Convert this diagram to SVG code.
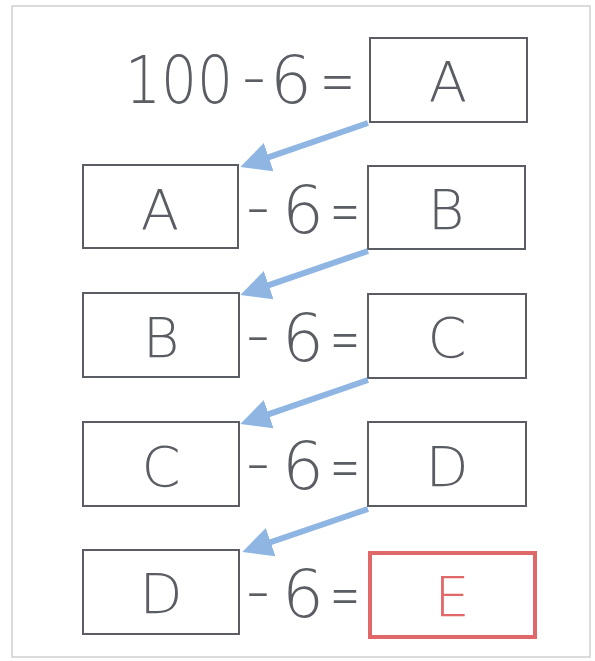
<svg xmlns="http://www.w3.org/2000/svg" width="595" height="661" viewBox="0 0 595 661">
<style>
.box{fill:none;stroke:#5a5d63;stroke-width:2}
.ans{fill:none;stroke:#e06868;stroke-width:4}
.lt{font-family:"DejaVu Sans","Liberation Sans",sans-serif;font-size:56px;fill:#5a5d63;text-anchor:middle;font-weight:200}
.eq{font-family:"DejaVu Sans","Liberation Sans",sans-serif;font-size:66px;fill:#5a5d63;font-weight:200}
.arr{stroke:#8fb6e2;stroke-width:6;fill:none;marker-end:url(#ah)}
</style>
<defs>
<marker id="ah" markerWidth="5" markerHeight="5" refX="4" refY="2.5" orient="auto" markerUnits="strokeWidth">
<path d="M0,0 L5,2.5 L0,5 Z" fill="#8fb6e2"/>
</marker>
</defs>
<rect x="12" y="6" width="578" height="651" fill="#fff" stroke="#cfcfcf" stroke-width="1.5"/>
<g id="row1">
<text class="eq" y="103"><tspan x="125" textLength="108" lengthAdjust="spacingAndGlyphs">100</tspan><tspan x="242" dy="-4" textLength="24" lengthAdjust="spacingAndGlyphs">-</tspan><tspan x="270" dy="4">6</tspan><tspan x="320" textLength="35" lengthAdjust="spacingAndGlyphs">=</tspan></text>
<g id="boxA1"><rect class="box" x="370" y="38" width="157" height="84"/><text class="lt" x="448" y="101">A</text></g>
</g>
<g id="row2">
<g id="boxA2"><rect class="box" x="83" y="165" width="155" height="83"/><text class="lt" x="160" y="229">A</text></g>
<text class="eq" y="233"><tspan x="246" dy="-4" textLength="24" lengthAdjust="spacingAndGlyphs">-</tspan><tspan x="282" dy="4">6</tspan><tspan x="330" textLength="30" lengthAdjust="spacingAndGlyphs">=</tspan></text>
<g id="boxB1"><rect class="box" x="368" y="166" width="157" height="83"/><text class="lt" x="446" y="229">B</text></g>
</g>
<g id="row3">
<g id="boxB2"><rect class="box" x="83" y="293" width="156" height="84"/><text class="lt" x="161" y="357">B</text></g>
<text class="eq" y="361"><tspan x="246" dy="-4" textLength="24" lengthAdjust="spacingAndGlyphs">-</tspan><tspan x="282" dy="4">6</tspan><tspan x="330" textLength="30" lengthAdjust="spacingAndGlyphs">=</tspan></text>
<g id="boxC1"><rect class="box" x="368" y="294" width="158" height="84"/><text class="lt" x="447" y="357">C</text></g>
</g>
<g id="row4">
<g id="boxC2"><rect class="box" x="83" y="422" width="156" height="84"/><text class="lt" x="161" y="486">C</text></g>
<text class="eq" y="489"><tspan x="246" dy="-4" textLength="24" lengthAdjust="spacingAndGlyphs">-</tspan><tspan x="282" dy="4">6</tspan><tspan x="330" textLength="30" lengthAdjust="spacingAndGlyphs">=</tspan></text>
<g id="boxD1"><rect class="box" x="368" y="422" width="158" height="84"/><text class="lt" x="447" y="486">D</text></g>
</g>
<g id="row5">
<g id="boxD2"><rect class="box" x="83" y="550" width="156" height="84"/><text class="lt" x="161" y="613">D</text></g>
<text class="eq" y="617"><tspan x="246" dy="-4" textLength="24" lengthAdjust="spacingAndGlyphs">-</tspan><tspan x="282" dy="4">6</tspan><tspan x="330" textLength="30" lengthAdjust="spacingAndGlyphs">=</tspan></text>
<g id="boxE"><rect class="ans" x="370" y="553" width="165" height="84"/><text class="lt" x="452" y="616" style="fill:#e06868">E</text></g>
</g>
<g id="connectors">
<line class="arr" x1="368" y1="123" x2="246" y2="165"/>
<line class="arr" x1="368" y1="251" x2="246" y2="293"/>
<line class="arr" x1="368" y1="380" x2="246" y2="422"/>
<line class="arr" x1="368" y1="509" x2="248" y2="550"/>
</g>
</svg>
